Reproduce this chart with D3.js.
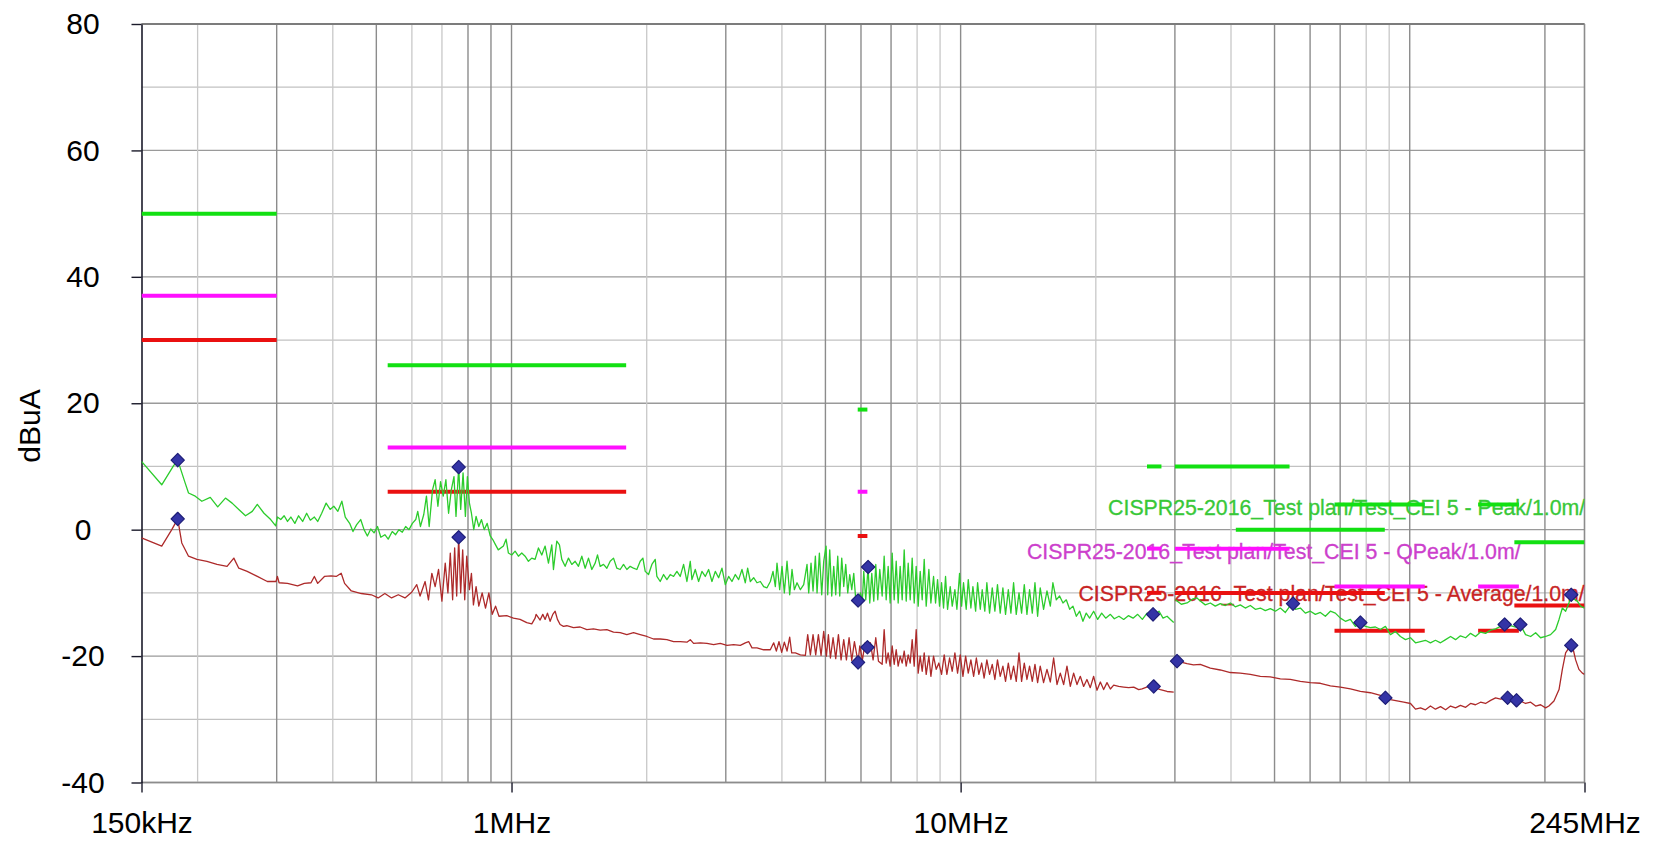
<!DOCTYPE html>
<html><head><meta charset="utf-8">
<script src="https://cdn.jsdelivr.net/npm/d3@7"></script>
<style>
html,body{margin:0;padding:0;background:#fff;}
svg{display:block;}
text{font-family:"Liberation Sans",Arial,sans-serif;}
</style></head>
<body><svg id="chart" width="1664" height="856"></svg>
<script>
// ---------- DATA (frequency in MHz, level in dBuA) ----------
const yTicks = [-40, -20, 0, 20, 40, 60, 80];
const yMinorGrid = [-30, -10, 10, 30, 50, 70];
const xTicks = [0.15, 1, 10, 245];
const xTickLabels = ["150kHz", "1MHz", "10MHz", "245MHz"];
const gridDark = [0.3, 0.5, 0.8, 0.9, 1, 3, 5, 6, 7, 10, 30, 50, 60, 70, 100, 200];
const gridLight = [0.2, 0.4, 0.6, 0.7, 2, 4, 8, 9, 20, 40, 80, 90];

// limit lines: [fStart, fEnd, level]
const peakLimits = [[0.15,0.3,50],[0.53,1.8,26],[5.9,6.2,19],[26,28,10],[30,54,10],[41,88,0],[68,108,4],[142,175,4],[171,245,-2]];
const qpeakLimits = [[0.15,0.3,37],[0.53,1.8,13],[5.9,6.2,6],[26,28,-3],[30,54,-3],[68,108,-9],[142,175,-9]];
const averageLimits = [[0.15,0.3,30],[0.53,1.8,6],[5.9,6.2,-1],[26,28,-10],[30,54,-10],[41,88,-10],[68,108,-16],[142,175,-16],[171,245,-12]];

const limitLabels = [
  "CISPR25-2016_Test plan/Test_CEI 5 - Peak/1.0m/",
  "CISPR25-2016_Test plan/Test_CEI 5 - QPeak/1.0m/",
  "CISPR25-2016_Test plan/Test_CEI 5 - Average/1.0m/"
];
const limitLabelAnchor = [[21.3, 2.3], [14.05, -4.6], [18.3, -11.25]];

// peak trace, receiver band 1 (150 kHz - 30 MHz)
const peakLow = [[0.150,10.8],[0.1664,7.1],[0.1767,10.1],[0.1806,11.0],[0.1876,7.4],[0.1909,5.8],[0.1976,5.3],[0.2044,4.5],[0.2134,5.1],[0.2217,3.6],[0.2307,5.0],[0.2387,4.2],[0.2470,3.2],[0.2557,2.2],[0.2647,2.9],[0.2716,4.0],[0.2811,2.6],[0.2909,1.6],[0.2985,0.6],[0.3011,2.0],[0.3063,1.6],[0.3117,2.2],[0.3171,1.3],[0.3226,2.0],[0.3293,1.0],[0.3356,2.2],[0.3427,1.3],[0.3498,2.6],[0.3565,1.5],[0.3639,2.0],[0.3702,1.3],[0.3779,2.6],[0.3865,4.2],[0.3946,3.2],[0.4021,3.7],[0.4105,2.9],[0.4190,4.5],[0.4264,2.0],[0.4361,1.0],[0.4436,-0.3],[0.4521,0.8],[0.4615,1.6],[0.4695,0],[0.4776,-1.0],[0.4859,0.1],[0.4943,-0.5],[0.5030,0.5],[0.5117,-1.2],[0.5224,-0.8],[0.5314,-1.5],[0.5425,-0.3],[0.5520,-0.8],[0.5615,0],[0.5712,-0.4],[0.5811,0.5],[0.5912,0],[0.6015,1.0],[0.6120,1.6],[0.6183,2.9],[0.6268,0.5],[0.6377,2.4],[0.6465,5.3],[0.6556,0.5],[0.6669,6.3],[0.6760,7.9],[0.6856,3.7],[0.6950,7.6],[0.7046,5.3],[0.7143,7.9],[0.7242,2.6],[0.7344,6.3],[0.7445,8.4],[0.7523,2.1],[0.7627,9.9],[0.7706,3.2],[0.7800,9.0],[0.7894,2.1],[0.7975,8.4],[0.8059,4.2],[0.8142,2.6],[0.8240,0],[0.8339,2.1],[0.8456,0.5],[0.8573,1.6],[0.8692,0],[0.8827,1.0],[0.8967,-1.0],[0.9090,-1.6],[0.9215,-2.4],[0.9344,-3.2],
[0.9593,-2.6],[0.9725,-1.5],[0.9842,-3.7],[1.0012,-4.0],[1.0185,-3.4],[1.036,-4.2],[1.0539,-3.7],[1.0721,-4.2],[1.0906,-5.0],[1.1094,-4.5],[1.1285,-4.7],[1.148,-2.9],[1.1678,-4.0],[1.188,-2.6],[1.2085,-5.3],[1.2293,-2.4],[1.2399,-6.3],[1.2613,-1.8],[1.2786,-2.4],[1.294,-4.7],[1.3164,-5.8],[1.3391,-4.5],[1.3622,-5.5],[1.3857,-5.0],[1.4096,-5.8],[1.4339,-4.2],[1.4587,-6.1],[1.4838,-4.5],[1.5094,-6.3],[1.5355,-5.3],[1.554,-4.0],[1.5754,-5.8],[1.6026,-5.5],[1.6302,-6.1],[1.6583,-5.0],[1.687,-4.5],[1.7161,-6.1],[1.7457,-6.3],[1.7758,-5.5],[1.8064,-6.3],[1.8376,-5.8],[1.8693,-6.1],[1.9015,-6.3],[1.9344,-5.0],[1.9611,-4.5],[1.9847,-6.6],[2.0189,-7.1],[2.0538,-5.5],[2.0892,-4.7],[2.1071,-7.4],[2.1435,-8.2],[2.1805,-7.1],[2.2181,-7.9],[2.2564,-7.1],[2.2953,-7.4],[2.3349,-6.6],[2.3752,-7.4],[2.4162,-5.5],[2.4579,-8.2],[2.5003,-5.0],[2.5217,-7.9],[2.5652,-6.3],[2.6096,-8.2],[2.6546,-6.6],[2.7004,-7.4],[2.747,-6.3],[2.7944,-8.2],[2.8426,-6.6],[2.8917,-7.6],[2.9416,-6.1],[2.9923,-8.7],[3.0439,-7.4],[3.0964,-8.2],[3.1498,-7.1],[3.2042,-7.9],[3.2595,-6.3],[3.3157,-8.4],[3.3556,-6.1],[3.4019,-8.2],[3.4606,-7.6],[3.5203,-8.4],[3.5811,-8.2],[3.6429,-9.0],[3.7057,-9.2],[3.7696,-8.2],[3.8216,-6.6],[3.8676,-9.0],[3.9008,-5.3],[3.9547,-9.5],[4.0023,-5.8],[4.0504,-10.0],[4.1063,-5.0],[4.163,-10.3],[4.213,-6.3],[4.2637,-9.5],[4.3225,-8.4],[4.3971,-9.5],[4.473,-8.7],[4.5501,-5.5],[4.5892,-10.0],[4.6443,-5.3],[4.6924,-9.7],[4.7489,-4.2],[4.7897,-10.0],[4.8475,-3.7],[4.9058,-10.3],[4.9564,-5.0],[5.0162,-2.6],[5.0592,-10.3],[5.1116,-3.2],[5.1643,-10.5],[5.2175,-5.8],[5.2712,-10.3],[5.3256,-4.2],[5.3807,-10.5],[5.4361,-4.5],[5.4922,-9.0],[5.5489,-5.5],[5.6061,-10.0],[5.6641,-7.1],[5.7226,-9.5],[5.7815,-6.9],[5.8411,-11.1],[5.9112,-11.2],[5.9827,-10.0],[6.0443,-11.1],[6.0859,-6.6],[6.1488,-11.1],[6.2228,-5.9],[6.2764,-11.6],[6.3412,-6.9],[6.4065,-11.3],[6.4725,-5.5],[6.5393,-11.1],[6.6069,-6.3],
[6.688,-10.5],[6.757,-4.2],[6.827,-11.1],[6.897,-5.8],[6.968,-11.6],[7.041,-3.7],[7.113,-11.1],[7.187,-5.0],[7.26,-11.6],[7.335,-5.8],[7.411,-11.1],[7.488,-3.2],[7.565,-11.3],[7.643,-5.3],[7.722,-11.1],[7.801,-4.5],[7.882,-11.6],[7.963,-5.8],[8.045,-12.1],[8.128,-6.6],[8.212,-11.1],[8.297,-4.7],[8.382,-12.1],[8.498,-6.3],[8.586,-11.6],[8.704,-7.4],[8.794,-11.6],[8.885,-7.9],[8.976,-12.1],[9.069,-8.4],[9.162,-12.4],[9.256,-7.4],[9.352,-12.6],[9.481,-9.0],[9.579,-12.1],[9.711,-9.5],[9.811,-12.6],[9.946,-6.9],[10.05,-12.1],[10.15,-8.4],[10.29,-12.6],[10.4,-7.9],[10.54,-12.4],[10.65,-9.0],[10.8,-12.9],[10.91,-8.4],[11.06,-12.6],[11.17,-9.5],[11.32,-12.9],[11.44,-8.4],[11.6,-13.2],[11.76,-9.2],[11.92,-12.9],[12.08,-8.7],[12.25,-13.2],[12.42,-9.2],[12.59,-13.4],[12.77,-9.5],[12.94,-13.2],[13.12,-8.4],[13.3,-13.4],[13.49,-10.0],[13.67,-13.2],[13.86,-8.7],[14.05,-13.4],[14.24,-9.5],[14.44,-13.2],[14.64,-8.4],[14.84,-13.7],[15.04,-9.2],[15.3,-12.6],[15.57,-9.7],[15.84,-12.1],[16.05,-8.4],[16.33,-11.1],[16.61,-10.5],[16.9,-11.6],[17.19,-11.1],[17.49,-12.6],[17.79,-12.1],[18.1,-13.7],[18.41,-12.9],[18.72,-14.5],[19.04,-13.2],[19.37,-14.0],[19.78,-12.9],[20.19,-14.2],[20.61,-13.2],[21.04,-14.0],[21.55,-13.4],[21.99,-14.1],[22.52,-13.7],[23.07,-14.2],[23.63,-13.6],[24.21,-14.0],[24.79,-13.4],[25.39,-14.2],[26.01,-13.2],[26.54,-13.7],[26.82,-13.4],[27.09,-13.4],[27.66,-12.9],[28.23,-14.0],[28.82,-13.7],[29.32,-14.2],[29.82,-14.7]];

// peak trace, receiver band 2 (30 MHz - 245 MHz)
const peakHigh = [[30.08,-11.1],[31.0,-11.8],[31.93,-11.6],[32.8,-11.0],[33.61,-10.8],[34.17,-11.3],[35.06,-11.9],[35.97,-11.6],[36.9,-12.1],[37.86,-11.7],[38.85,-12.0],[39.86,-11.6],[40.89,-12.2],[41.95,-11.9],[43.04,-12.4],[44.16,-12.0],[45.31,-12.6],[46.49,-12.4],[47.69,-12.8],[48.93,-12.5],[50.21,-12.9],[51.51,-12.4],[52.85,-13.1],[54.22,-12.0],[54.97,-11.7],[55.63,-12.6],[57.08,-12.4],[58.56,-13.2],[60.08,-12.9],[61.64,-13.4],[63.24,-13.1],[64.89,-13.7],[66.58,-12.9],[68.3,-13.2],[70.08,-14.0],[71.9,-14.5],[73.77,-14.2],[75.68,-15.3],[77.65,-14.7],[79.68,-15.3],[81.75,-15.5],[83.86,-15.4],[86.05,-15.8],[88.28,-15.3],[90.58,-16.6],[92.93,-16.1],[95.35,-16.9],[97.83,-17.4],[100.4,-17.1],[103.0,-17.9],[105.7,-17.7],[108.4,-17.5],[111.2,-17.9],[114.1,-17.5],[117.1,-17.9],[120.2,-17.4],[123.3,-16.9],[126.5,-17.4],[129.7,-16.8],[133.2,-17.1],[136.6,-16.4],[140.1,-16.9],[143.8,-16.2],[147.5,-16.4],[151.4,-15.9],[155.3,-15.7],[159.3,-15.3],[162.7,-15.0],[167.7,-15.2],[172.1,-15.4],[176.5,-15.1],[181.1,-16.6],[185.9,-16.9],[190.7,-16.3],[195.6,-17.1],[200.7,-16.9],[205.9,-16.6],[211.3,-15.8],[215.0,-14.2],[218.7,-12.4],[222.4,-12.9],[226.2,-11.6],[228.9,-10.3],[230.1,-10.8],[236.1,-11.3],[240.2,-12.1],[245,-12.4]];

// average trace, receiver band 1
const avgLow = [[0.150,-1.3],[0.1664,-2.6],[0.1752,0],[0.1806,1.7],[0.1844,-2.1],[0.1909,-4.2],[0.1993,-4.7],[0.2098,-5.0],[0.2209,-5.5],[0.2326,-5.8],[0.2408,-4.5],[0.2470,-6.1],[0.2579,-6.6],[0.2716,-7.4],[0.2859,-8.2],[0.2990,-8.2],[0.3011,-7.4],[0.3037,-8.4],[0.3171,-8.5],[0.3339,-8.9],[0.3456,-8.5],[0.3577,-8.4],[0.3639,-7.4],[0.3702,-8.5],[0.3832,-7.4],[0.3966,-7.3],[0.4070,-7.4],[0.4176,-6.9],[0.4249,-8.5],[0.4398,-9.7],[0.4631,-10.1],[0.4876,-10.3],[0.5047,-10.8],[0.5224,-10.1],[0.5407,-10.8],[0.5596,-10.3],[0.5791,-10.8],[0.5994,-9.9],[0.6151,-8.7],[0.6257,-10.5],[0.6421,-8.2],[0.6532,-11.1],[0.6646,-6.9],[0.6760,-9.0],[0.6879,-6.3],[0.6998,-11.3],[0.7119,-5.3],[0.7217,-10.0],[0.7306,-3.7],[0.7394,-11.1],[0.7471,-2.9],[0.7549,-10.5],[0.7627,-1.2],[0.7706,-10.0],[0.7785,-3.2],[0.7867,-11.1],[0.7948,-4.2],[0.8059,-9.5],[0.8142,-6.9],[0.8226,-11.9],[0.8339,-9.0],[0.8456,-12.1],[0.8602,-10.0],[0.8752,-12.4],[0.8903,-10.0],[0.9059,-13.4],[0.9215,-12.1],[0.9376,-13.7],
[0.9758,-13.6],[1.0098,-14.0],[1.0449,-14.2],[1.0813,-14.7],[1.1094,-14.9],[1.1285,-14.0],[1.1343,-13.4],[1.1579,-14.3],[1.1739,-13.4],[1.188,-14.2],[1.2023,-13.2],[1.2189,-14.5],[1.2357,-13.4],[1.2506,-12.9],[1.2655,-14.2],[1.283,-15.0],[1.3051,-15.3],[1.3277,-15.2],[1.3739,-15.5],[1.4217,-15.4],[1.4712,-15.8],[1.5224,-15.7],[1.5754,-15.9],[1.6302,-15.8],[1.687,-16.2],[1.7457,-16.3],[1.8064,-16.6],[1.8693,-16.3],[1.9344,-16.6],[2.0017,-16.9],[2.0714,-17.3],[2.1435,-17.3],[2.2181,-17.4],[2.2953,-17.7],[2.3752,-17.7],[2.4579,-17.8],[2.5003,-17.4],[2.5434,-18.0],[2.632,-17.9],[2.7236,-18.0],[2.8184,-18.2],[2.9165,-18.0],[3.018,-18.3],[3.123,-18.2],[3.2317,-18.3],[3.3157,-17.9],[3.3729,-17.7],[3.4312,-18.7],[3.5203,-18.7],[3.6429,-19.0],[3.7696,-19.0],[3.8347,-17.9],[3.8876,-19.2],[3.9411,-17.7],[3.9954,-19.4],[4.0504,-17.8],[4.1063,-19.2],[4.163,-17.0],[4.2059,-19.5],[4.2857,-19.5],[4.3971,-19.8],[4.5114,-19.9],[4.5657,-16.6],[4.6286,-19.8],[4.6924,-16.6],[4.757,-19.8],[4.8227,-16.6],[4.8891,-19.9],[4.9564,-16.1],[5.0248,-20.0],[5.0766,-16.6],[5.129,-20.3],[5.1997,-17.1],[5.2712,-20.4],[5.3441,-16.6],[5.4176,-20.6],[5.4922,-17.4],[5.5679,-20.6],[5.6445,-17.1],[5.7226,-20.7],[5.8013,-17.7],[5.9112,-21.0],[5.9623,-18.4],[6.0443,-20.6],[6.1279,-17.9],[6.2016,-18.6],[6.2978,-17.9],[6.3846,-20.6],[6.4725,-17.1],[6.5619,-20.8],
[6.688,-21.3],[6.757,-15.8],[6.827,-21.1],[6.897,-19.5],[6.968,-21.6],[7.041,-18.4],[7.113,-21.3],[7.187,-19.0],[7.26,-21.6],[7.335,-20.0],[7.411,-21.1],[7.488,-19.2],[7.565,-21.6],[7.643,-19.8],[7.722,-21.1],[7.801,-17.4],[7.882,-21.6],[7.963,-15.8],[8.045,-22.7],[8.128,-20.0],[8.212,-22.4],[8.297,-19.5],[8.382,-22.9],[8.498,-20.0],[8.586,-23.2],[8.704,-20.0],[8.824,-22.1],[8.946,-21.1],[9.069,-22.9],[9.193,-19.8],[9.32,-22.9],[9.449,-20.3],[9.579,-22.4],[9.711,-19.5],[9.844,-22.7],[9.98,-19.8],[10.12,-23.2],[10.26,-20.0],[10.4,-22.7],[10.54,-20.6],[10.69,-23.2],[10.84,-20.3],[10.98,-22.9],[11.14,-21.1],[11.28,-23.5],[11.44,-20.6],[11.6,-22.9],[11.76,-21.3],[11.92,-23.7],[12.08,-20.6],[12.25,-23.2],[12.42,-21.6],[12.59,-24.0],[12.77,-21.1],[12.94,-23.7],[13.12,-21.6],[13.3,-24.0],[13.49,-19.5],[13.67,-24.0],[13.86,-21.1],[14.05,-23.7],[14.24,-21.6],[14.44,-24.0],[14.64,-21.3],[14.84,-24.2],[15.04,-21.6],[15.3,-24.2],[15.57,-22.1],[15.84,-24.1],[16.11,-20.3],[16.39,-24.5],[16.67,-22.7],[16.96,-24.5],[17.25,-21.6],[17.55,-24.8],[17.85,-22.7],[18.16,-24.5],[18.47,-23.2],[18.79,-24.8],[19.11,-23.7],[19.44,-25.0],[19.78,-23.2],[20.12,-25.4],[20.47,-24.1],[20.82,-25.3],[21.18,-24.2],[21.55,-25.2],[21.92,-24.6],[22.49,-24.8],[23.07,-24.9],[23.67,-25.0],[24.29,-24.9],[24.92,-25.3],[25.35,-25.2],[26.23,-24.8],[26.91,-24.9],[27.85,-25.3],[28.82,-25.6],[29.82,-25.7]];

// average trace, receiver band 2
const avgHigh = [[30.33,-20.8],[31.93,-21.2],[33.0,-21.4],[34.17,-21.3],[35.97,-21.9],[37.86,-22.2],[39.86,-22.6],[41.95,-22.7],[44.16,-22.9],[46.49,-23.2],[48.93,-23.3],[51.51,-23.6],[54.22,-23.7],[57.08,-24.0],[60.08,-24.2],[63.24,-24.3],[66.58,-24.7],[70.08,-24.9],[73.77,-25.2],[77.65,-25.6],[81.75,-25.8],[86.05,-26.2],[88.28,-26.6],[90.58,-26.9],[93.73,-27.1],[97.0,-27.3],[100.4,-27.5],[103.0,-28.4],[105.7,-28.2],[108.4,-28.5],[111.2,-27.9],[114.1,-28.4],[117.1,-28.0],[120.2,-28.5],[123.3,-27.9],[126.5,-28.2],[129.7,-27.8],[133.2,-28.1],[136.6,-27.5],[140.1,-27.7],[143.8,-27.3],[147.5,-27.5],[151.4,-27.0],[155.3,-26.6],[159.3,-26.8],[165.2,-26.6],[169.1,-26.9],[172.9,-27.0],[176.5,-27.1],[181.1,-27.5],[185.9,-27.3],[190.7,-27.9],[195.6,-27.7],[200.7,-28.2],[204.1,-27.9],[209.5,-27.1],[215.0,-25.3],[218.7,-22.1],[222.4,-19.5],[226.2,-18.7],[228.9,-18.3],[231.3,-19.0],[234.1,-20.6],[238.1,-22.1],[242.3,-22.7],[245,-22.9]];

const peakMarkers = [[0.1806,11.0],[0.7627,9.9],[5.911,-11.2],[6.223,-5.9],[26.82,-13.4],[54.97,-11.7],[77.65,-14.7],[162.7,-15.0],[176.3,-15.0],[228.9,-10.3]];
const avgMarkers = [[0.1806,1.7],[0.7627,-1.2],[5.911,-21.0],[6.202,-18.6],[26.91,-24.8],[30.33,-20.8],[88.28,-26.6],[165.2,-26.6],[172.9,-27.0],[228.9,-18.3]];

// ---------- CHART ----------
const svg = d3.select("#chart");
const x = d3.scaleLog().domain([0.15, 245]).range([141.5, 1584.5]);
const y = d3.scaleLinear().domain([-40, 80]).range([782.5, 24]);
const [X0, X1] = x.range();
const [Y0, Y1] = y.range();

svg.append("rect").attr("width",1664).attr("height",856).attr("fill","#fff");
svg.append("defs").append("clipPath").attr("id","plotclip")
  .append("rect").attr("x",X0).attr("y",Y1).attr("width",X1-X0).attr("height",Y0-Y1);

// grid
const grid = svg.append("g");
grid.selectAll(".hmin").data(yMinorGrid).join("line")
  .attr("x1",X0).attr("x2",X1).attr("y1",d=>y(d)).attr("y2",d=>y(d))
  .attr("stroke","#c2c2c2").attr("stroke-width",1.3);
grid.selectAll(".hmaj").data(yTicks).join("line")
  .attr("x1",X0).attr("x2",X1).attr("y1",d=>y(d)).attr("y2",d=>y(d))
  .attr("stroke","#9a9a9a").attr("stroke-width",1.4);
grid.selectAll(".vl").data(gridLight).join("line")
  .attr("x1",d=>x(d)).attr("x2",d=>x(d)).attr("y1",Y1).attr("y2",Y0)
  .attr("stroke","#c8c8c8").attr("stroke-width",1.3);
grid.selectAll(".vd").data(gridDark).join("line")
  .attr("x1",d=>x(d)).attr("x2",d=>x(d)).attr("y1",Y1).attr("y2",Y0)
  .attr("stroke","#8c8c8c").attr("stroke-width",1.4);

// frame
grid.append("line").attr("x1",X0).attr("x2",X1).attr("y1",Y1).attr("y2",Y1).attr("stroke","#7c7c7c").attr("stroke-width",2.2);
grid.append("line").attr("x1",X1).attr("x2",X1).attr("y1",Y1).attr("y2",Y0).attr("stroke","#8c8c8c").attr("stroke-width",1.6);
grid.append("line").attr("x1",X0).attr("x2",X1).attr("y1",Y0).attr("y2",Y0).attr("stroke","#8c8c8c").attr("stroke-width",1.6);

// axes
const yAxis = svg.append("g").attr("transform",`translate(${X0},0)`)
  .call(d3.axisLeft(y).tickValues(yTicks).tickSize(10).tickSizeOuter(0).tickFormat(d=>String(d)));
yAxis.select(".domain").attr("stroke","#1a1a2a").attr("stroke-width",1.6);
yAxis.selectAll(".tick line").attr("stroke","#1a1a2a").attr("stroke-width",1.4);
yAxis.selectAll(".tick text").attr("x",-58.5).attr("text-anchor","middle")
  .attr("font-size",30).attr("fill","#000")
  .style("font-family",'"Liberation Sans",Arial,sans-serif');

const xAxis = svg.append("g").attr("transform",`translate(0,${Y0})`)
  .call(d3.axisBottom(x).tickValues(xTicks).tickSize(10).tickSizeOuter(0).tickPadding(19)
    .tickFormat((d,i)=>xTickLabels[i]));
xAxis.select(".domain").remove();
xAxis.selectAll(".tick line").attr("stroke","#1a1a2a").attr("stroke-width",1.4);
xAxis.selectAll(".tick text").attr("font-size",30).attr("fill","#000")
  .style("font-family",'"Liberation Sans",Arial,sans-serif');

svg.append("text").attr("transform","translate(39.5,426) rotate(-90)")
  .attr("text-anchor","middle").attr("font-size",30).attr("fill","#000").text("dBuA");

// clipped plot content
const plot = svg.append("g").attr("clip-path","url(#plotclip)");

const labelColors = ["#38c838","#cc40cc","#c82424"];
plot.selectAll(".lbl").data(limitLabels).join("text")
  .attr("x",(d,i)=>x(limitLabelAnchor[i][0]))
  .attr("y",(d,i)=>y(limitLabelAnchor[i][1]))
  .attr("font-size",21.3).attr("fill",(d,i)=>labelColors[i])
  .attr("stroke",(d,i)=>labelColors[i]).attr("stroke-width",0.3).text(d=>d);

function drawLimits(data, color){
  plot.append("g").selectAll("line").data(data).join("line")
    .attr("x1",d=>x(d[0])).attr("x2",d=>x(d[1]))
    .attr("y1",d=>y(d[2])).attr("y2",d=>y(d[2]))
    .attr("stroke",color).attr("stroke-width",4);
}
drawLimits(averageLimits,"#ea1010");
drawLimits(qpeakLimits,"#ff10ff");
drawLimits(peakLimits,"#12e012");

const line = d3.line().x(d=>x(d[0])).y(d=>y(d[1]));
[avgLow, avgHigh].forEach(s=>{
  plot.append("path").datum(s).attr("d",line).attr("fill","none")
    .attr("stroke","#ad2a2a").attr("stroke-width",1.3).attr("stroke-linejoin","round");
});
[peakLow, peakHigh].forEach(s=>{
  plot.append("path").datum(s).attr("d",line).attr("fill","none")
    .attr("stroke","#2ccc2c").attr("stroke-width",1.3).attr("stroke-linejoin","round");
});

const sym = d3.symbol().type(d3.symbolSquare).size(88);
plot.append("g").selectAll("path").data(peakMarkers.concat(avgMarkers)).join("path")
  .attr("d",sym)
  .attr("transform",d=>`translate(${x(d[0])},${y(d[1])}) rotate(45)`)
  .attr("fill","#3434a6").attr("stroke","#1e1e78").attr("stroke-width",1.2)
  .attr("stroke-linejoin","round");
</script>
</body></html>
